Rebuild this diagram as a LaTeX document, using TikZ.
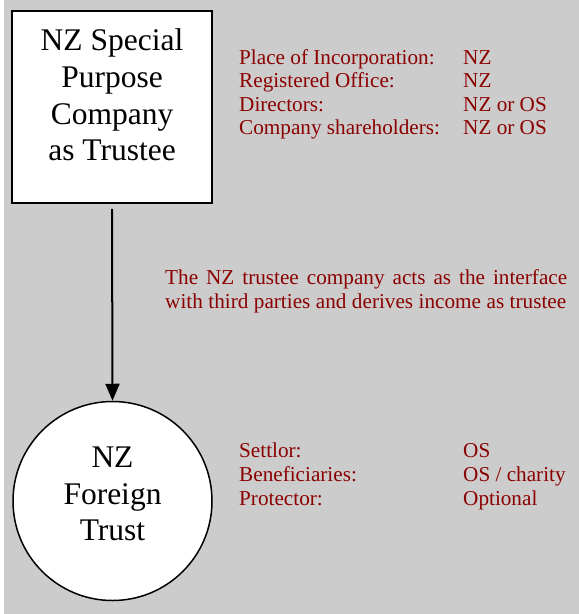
\documentclass[tikz,border=0pt]{standalone}
\usepackage{fontspec}
\setmainfont{Liberation Serif}
\usepackage{tikz}
\usetikzlibrary{arrows.meta}

\definecolor{bggray}{RGB}{204,204,204}
\definecolor{notered}{RGB}{139,0,0}

\tikzset{
    bigtext/.style={align=center, inner sep=0pt, font=\fontsize{31.5}{36.8}\selectfont},
    notetext/.style={anchor=base west, inner sep=0pt, text=notered, font=\fontsize{21.2}{24}\selectfont},
}

\begin{document}
\begin{tikzpicture}[x=1pt, y=-1pt]
        \useasboundingbox (0,0) rectangle (579,614);
        \fill [bggray] (4,0) rectangle (579,614);
        \node [draw, line width=1.5pt, fill=white, minimum width=200pt, minimum height=192pt] (spc) at (112,107) {};
        \node [bigtext] (spctext) at (112,95) {NZ Special\\Purpose\\Company\\as Trustee};
        \node [draw, line width=1.5pt, fill=white, circle, minimum size=199pt, inner sep=0pt] (trust) at (112.5,501) {};
        \node [bigtext] (trusttext) at (112.5,494) {NZ\\Foreign\\Trust};
        \draw [line width=2pt, -{Triangle[length=17pt,width=14pt]}, shorten <=5pt] (spc.south) -- (trust.north);
        % company details
        \node [notetext] (incorp) at (239,64) {Place of Incorporation:};
        \node [notetext] (office) at (239,87.5) {Registered Office:};
        \node [notetext] (directors) at (239,111) {Directors:};
        \node [notetext] (holders) at (239,134.5) {Company shareholders:};
        \node [notetext] (incorpval) at (463,64) {NZ};
        \node [notetext] (officeval) at (463,87.5) {NZ};
        \node [notetext] (directorsval) at (463,111) {NZ or OS};
        \node [notetext] (holdersval) at (463,134.5) {NZ or OS};
        % role of the trustee
        \node [notetext, align=left] (role) at (165,308.5) {\makebox[402pt][s]{The NZ trustee company acts as the interface}\\\makebox[401pt][s]{with third parties and derives income as trustee}};
        % trust details
        \node [notetext] (settlor) at (239,457) {Settlor:};
        \node [notetext] (benef) at (239,481) {Beneficiaries:};
        \node [notetext] (protector) at (239,505) {Protector:};
        \node [notetext] (settlorval) at (463,457) {OS};
        \node [notetext] (benefval) at (463,481) {OS / charity};
        \node [notetext] (protectorval) at (463,505) {Optional};
    \end{tikzpicture}
\end{document}
